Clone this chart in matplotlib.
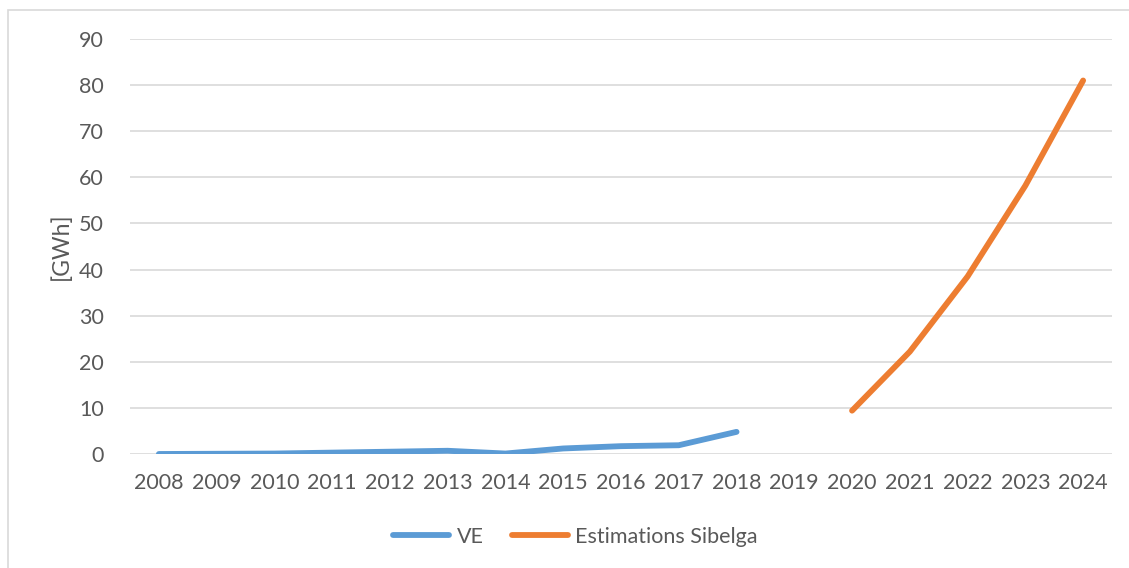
import numpy as np
import matplotlib
matplotlib.use("Agg")
import matplotlib.pyplot as plt
from matplotlib.patches import Rectangle

# ============================================================
# DATA
# ============================================================
years = [str(y) for y in range(2008, 2025)]

ve_years = ["2008", "2009", "2010", "2011", "2012", "2013",
            "2014", "2015", "2016", "2017", "2018"]
ve_values = [0.0, 0.05, 0.1, 0.3, 0.5, 0.7, 0.1, 1.2, 1.7, 1.9, 4.8]

est_years = ["2020", "2021", "2022", "2023", "2024"]
est_values = [9.4, 22.2, 38.5, 58.2, 81.0]

y_ticks = list(range(0, 91, 10))

# ============================================================
# PLOT
# ============================================================
plt.rcParams["font.family"] = ["Lato", "DejaVu Sans"]
text_col = "#595959"

fig = plt.figure(figsize=(11.29, 5.68), dpi=100)
ax = fig.add_axes([130 / 1129, 1 - 454 / 568, (1112 - 130) / 1129, (454 - 39) / 568])

# chart frame (Excel style, only top/left visible)
fig.patches.append(Rectangle((8 / 1129, -0.1), 1.2, 1 - 10 / 568 + 0.1,
                             transform=fig.transFigure, fill=False,
                             edgecolor="#d9d9d9", linewidth=1.2))

idx = {y: i for i, y in enumerate(years)}
ve_x = [idx[y] for y in ve_years]
est_x = [idx[y] for y in est_years]

ax.plot(ve_x, ve_values, color="#5b9bd5", linewidth=4.2,
        solid_capstyle="round", solid_joinstyle="round", label="VE")
ax.plot(est_x, est_values, color="#ed7d31", linewidth=4.2,
        solid_capstyle="round", solid_joinstyle="round",
        label="Estimations Sibelga")

ax.set_xlim(-0.5, len(years) - 0.5)
ax.set_ylim(0, 90)
ax.set_xticks(range(len(years)))
ax.set_xticklabels(years)
ax.set_yticks(y_ticks)

ax.grid(axis="y", color="#d9d9d9", linewidth=1.2)
ax.set_axisbelow(True)
for s in ax.spines.values():
    s.set_visible(False)

ax.tick_params(axis="both", length=0, labelsize=15.5, labelcolor=text_col)
ax.tick_params(axis="x", pad=14)
ax.tick_params(axis="y", pad=19)

ax.set_ylabel("[GWh]", fontsize=16.5, color=text_col, labelpad=5)

leg = fig.legend(loc="center", bbox_to_anchor=(575.5 / 1129, 1 - 537 / 568), ncol=2,
                 frameon=False, fontsize=15.5, handlelength=2.6,
                 columnspacing=1.3, handletextpad=0.35)
for t in leg.get_texts():
    t.set_color(text_col)

plt.savefig("out.png", dpi=100)
plt.close()
